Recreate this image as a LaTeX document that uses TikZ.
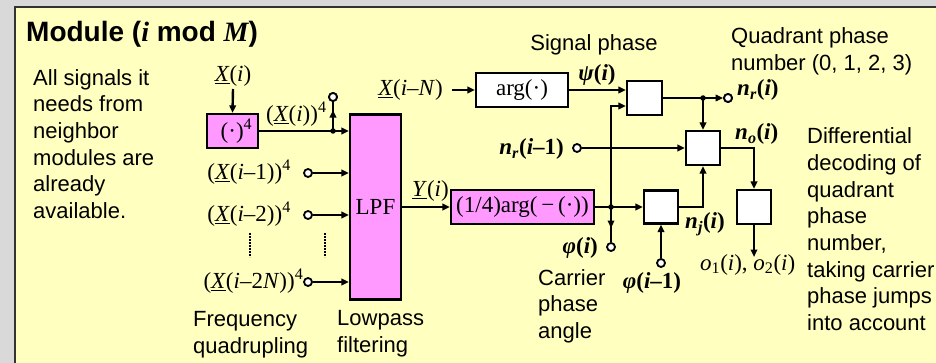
\documentclass[tikz,border=0pt]{standalone}
\usepackage{fontspec}
\setmainfont{Liberation Sans}
\newfontfamily\tms{Liberation Serif}
\usetikzlibrary{arrows.meta,calc,decorations.markings}
\definecolor{bggray}{HTML}{D9D9D9}
\definecolor{panel}{HTML}{FFFFC0}
\definecolor{pinkbox}{HTML}{FF99FF}
\definecolor{frame}{HTML}{333333}
\newcommand\uX{\underline{\textit{X}}}
\newcommand\uY{\underline{\textit{Y}}}
\newcommand\iti{\textit{i}}
\newcommand\nsub[1]{\textbf{\textit{n}\textsubscript{\textit{#1}}}}
\begin{document}
\begin{tikzpicture}[x=1pt,y=-1pt,
  >={Triangle[length=7.5pt,width=6.5pt]},
  wire/.style={line width=2.4pt, draw=black},
  blk/.style={draw, line width=2.2pt, fill=white, inner sep=0pt, font=\fontsize{23}{26}\selectfont\tms},
  pblk/.style={blk, fill=pinkbox},
  port/.style={circle, draw, line width=1.8pt, fill=white, minimum size=8pt, inner sep=0pt},
  jdot/.style={circle, fill=black, minimum size=5.5pt, inner sep=0pt},
  lbl/.style={inner sep=0pt, font=\fontsize{23}{26}\selectfont\tms},
  txt/.style={inner sep=0pt, align=left, font=\fontsize{22}{26.7}\selectfont},
  midarrow/.style={postaction={decorate}, decoration={markings, mark=at position #1 with {\arrow{Triangle[length=7.5pt,width=6.5pt]}}}},
  dotline/.style={line width=2.6pt, dash pattern=on 1.6pt off 1.4pt}
]
\useasboundingbox (0,0) rectangle (936,363);
\fill[bggray] (0,0) rectangle (936,363);
\fill[panel] (14.5,7.5) rectangle (950,380);
\draw[frame, line width=2pt] (14.5,380) -- (14.5,7.5) -- (950,7.5);

% texts
\node[anchor=base west, inner sep=0pt, font=\fontsize{28}{31}\selectfont\bfseries] (title) at (26,42)
  {Module ({\tms\itshape i} mod {\tms\itshape M})};
\node[txt, anchor=north west] (note) at (33,69)
  {All signals it\\needs from\\neighbor\\modules are\\already\\available.};
\node[txt, anchor=north west] (freq) at (193,311) {Frequency\\quadrupling};
\node[txt, anchor=north west] (lowp) at (337,310.5) {Lowpass\\filtering};
\node[txt, anchor=base] (sigph) at (594,51) {Signal phase};
\node[txt, anchor=north west] (quad) at (731,27.5) {Quadrant phase\\number (0, 1, 2, 3)};
\node[txt, anchor=north west] (diff) at (807,127.5)
  {Differential\\decoding of\\quadrant\\phase\\number,\\taking carrier\\phase jumps\\into account};
\node[txt, anchor=north west] (carr) at (538,269) {Carrier\\phase\\angle};

% blocks
\node[pblk, minimum width=51pt, minimum height=34pt] (pow) at (232.5,131) {\hspace*{8pt}(·)\textsuperscript{4}};
\node[pblk, minimum width=51pt, minimum height=185pt] (lpf) at (375.5,207) {LPF};
\node[blk, minimum width=92pt, minimum height=34pt] (arg) at (522,90) {arg(·)};
\node[pblk, minimum width=143pt, minimum height=34pt] (qarg) at (522.5,207) {(1/4)arg(\,−\,(·))};
\node[blk, minimum width=35pt, minimum height=34pt] (b1) at (644.5,98) {};
\node[blk, minimum width=34pt, minimum height=33pt] (b2) at (661,207) {};
\node[blk, minimum width=34pt, minimum height=34pt] (b3) at (703,148) {};
\node[blk, minimum width=34pt, minimum height=34pt] (b4) at (754,207) {};

% ports and junctions
\node[port] (px4) at (333,97) {};
\node[port] (p1) at (308,173) {};
\node[port] (p2) at (308,215) {};
\node[port] (p2n) at (308,282) {};
\node[port] (pnr1) at (577,148) {};
\node[port] (pphi) at (611,247) {};
\node[port] (pphi1) at (661,263) {};
\node[port] (pnr) at (728,98) {};
\coordinate (j1) at (333,131);
\coordinate (j2) at (611,207);
\coordinate (j3) at (703,98);
\coordinate (xin) at (233,89);
\coordinate (xn) at (452,90);
\coordinate (oend) at (754,257);
\coordinate (b1in2) at ($(b1.west)+(0,8)$);

% labels
\node[lbl, anchor=base] (lxi) at (233,82) {\uX(\iti)};
\node[lbl, anchor=base west] (lx4) at (266,122) {(\uX(\iti))\textsuperscript{4}};
\node[lbl, anchor=base east] (lx1) at (291,180) {(\uX(\iti–1))\textsuperscript{4}};
\node[lbl, anchor=base east] (lx2) at (291,222) {(\uX(\iti–2))\textsuperscript{4}};
\node[lbl, anchor=base east] (lx2n) at (303.5,288.5) {(\uX(\iti–2\textit{N}))\textsuperscript{4}};
\node[lbl, anchor=base east] (lxn) at (443,96) {\uX(\iti–\textit{N})};
\node[lbl, anchor=base west] (ly) at (412,197) {\uY(\iti)};
\node[lbl, anchor=base] (lpsi) at (597,81) {\textbf{\textit{ψ}(\iti)}};
\node[lbl, anchor=base west] (lnr) at (737,96) {\nsub{r}\textbf{(\iti)}};
\node[lbl, anchor=base east] (lnr1) at (564,155) {\nsub{r}\textbf{(\iti–1)}};
\node[lbl, anchor=base west] (lno) at (735,140) {\nsub{o}\textbf{(\iti)}};
\node[lbl, anchor=base west] (lnj) at (685,229) {\nsub{j}\textbf{(\iti)}};
\node[lbl, anchor=base east] (lphi) at (598,253) {\textbf{\textit{φ}(\iti)}};
\node[lbl, anchor=base] (lphi1) at (652,288) {\textbf{\textit{φ}(\iti–1)}};
\node[lbl, anchor=base west] (lo) at (700,270) {\textit{o}\textsubscript{1}(\iti), \textit{o}\textsubscript{2}(\iti)};

% wires
\draw[wire,->] (xin) -- (pow.north);
\draw[wire,->] (pow.east) -- (pow.east -| lpf.west);
\draw[wire, midarrow=0.72] (j1) -- (px4);
\draw[wire,->] (p1) -- (p1 -| lpf.west);
\draw[wire,->] (p2) -- (p2 -| lpf.west);
\draw[wire,->] (p2n) -- (p2n -| lpf.west);
\draw[wire,->] (lpf.east |- qarg.west) -- (qarg.west);
\draw[wire,->] (xn) -- (arg.west);
\draw[wire,->] (arg.east) -- (arg.east -| b1.west);
\draw[wire,->] (qarg.east) -- (b2.west);
\draw[wire,->] (j2) |- (b1in2);
\draw[wire, midarrow=0.6] (j2) -- (pphi);
\draw[wire,->] (pphi1) -- (b2.south);
\draw[wire,->] (b1.east) -- (pnr);
\draw[wire,->] (j3) -- (b3.north);
\draw[wire,->] (pnr1) -- (b3.west);
\draw[wire,->] (b2.east) -| (b3.south);
\draw[wire,->] (b3.east) -| (b4.north);
\draw[wire,->] (b4.south) -- (oend);

% redraw ports on top
\node[port] at (px4) {};
\node[port] at (pnr) {};
\node[jdot] at (j1) {};
\node[jdot] at (j2) {};
\node[jdot] at (j3) {};

% dotted ellipsis lines
\draw[dotline] (250,233) -- (250,257);
\draw[dotline] (325,233) -- (325,257);
\end{tikzpicture}
\end{document}
